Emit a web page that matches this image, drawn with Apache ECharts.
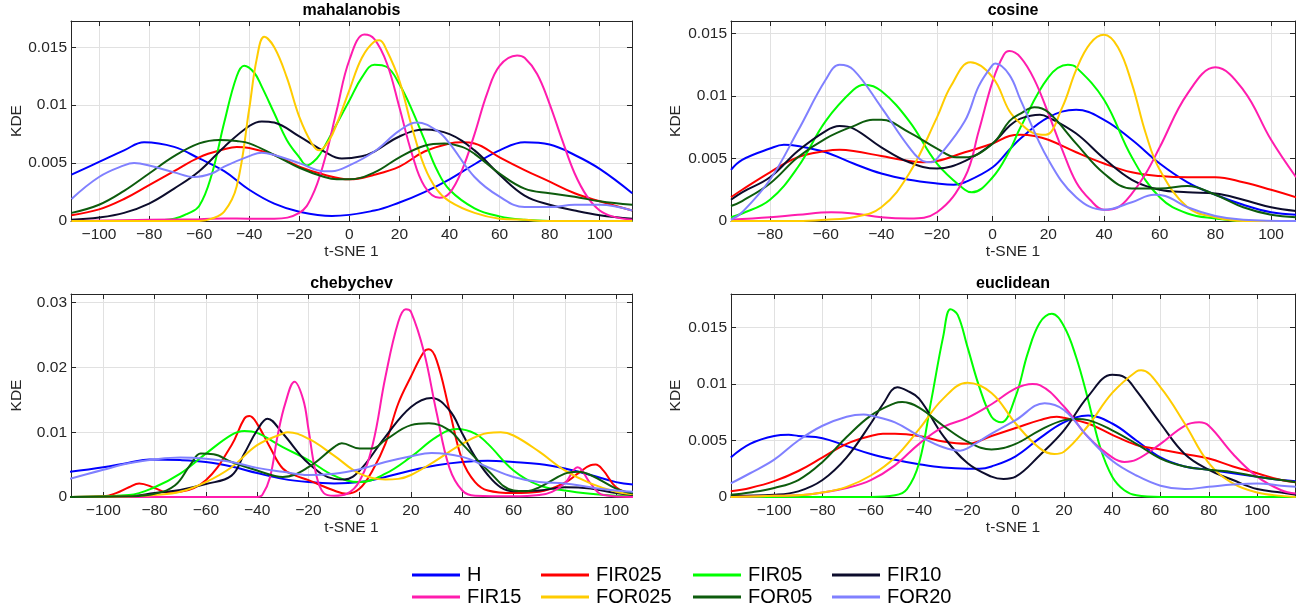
<!DOCTYPE html>
<html>
<head>
<meta charset="utf-8">
<script src="https://cdn.jsdelivr.net/npm/echarts@6/dist/echarts.min.js"></script>
<style>
html,body{margin:0;padding:0;background:#fff;}
#chart{width:1306px;height:612px;}
</style>
</head>
<body>
<div id="chart"></div>
<script>
// ---------------- DATA ----------------
const seriesNames = ['H','FIR025','FIR05','FIR10','FIR15','FOR025','FOR05','FOR20'];
const seriesColors = ['#0000ff','#ff0000','#00ff00','#0c0c2c','#ff1cae','#ffcc00','#0d5c0d','#8080ff'];
const panelTitles = ['mahalanobis','cosine','chebychev','euclidean'];
const xAxisName = 't-SNE 1';
const yAxisName = 'KDE';
const xTickStep = 20;
const yTickSteps = [0.005, 0.005, 0.01, 0.005];
const xRanges = [[-111.2, 112.9], [-94, 108.6], [-112.6, 106.2], [-117.9, 115.7]];
const yMaxes = [0.01727, 0.01601, 0.03135, 0.01795];

// mahalanobis
const mah_H = [[-111,.0040],[-100,.0051],[-90,.0061],[-82,.0068],[-70,.0064],[-60,.0054],[-50,.0043],[-40,.0027],[-30,.0015],[-20,.0008],[-7,.00043],[10,.0009],[20,.0016],[30,.0025],[40,.0036],[50,.0049],[60,.0061],[70,.0068],[80,.0066],[90,.0057],[100,.0045],[113,.0024]];
const mah_FIR025 = [[-111,.0005],[-100,.0010],[-90,.0019],[-80,.0031],[-70,.0043],[-60,.0055],[-50,.0062],[-45,.0064],[-40,.0063],[-30,.0057],[-20,.0047],[-10,.0040],[0,.0036],[10,.0040],[20,.0047],[30,.0060],[40,.0067],[45,.0068],[50,.0067],[60,.0055],[70,.0044],[80,.0034],[90,.0024],[100,.0017],[113,.0009]];
const mah_FIR05 = [[-111,0],[-80,.00005],[-70,.0002],[-65,.0006],[-60,.0013],[-55,.0040],[-50,.0085],[-45,.0125],[-42,.0134],[-38,.0128],[-35,.0116],[-30,.0093],[-25,.0070],[-20,.0055],[-17,.0048],[-13,.0054],[-10,.0064],[-5,.0084],[0,.0104],[5,.0124],[10,.0135],[15,.0133],[20,.0118],[25,.0096],[30,.0070],[35,.0044],[40,.0027],[50,.0011],[60,.0004],[70,.0001],[80,0],[113,0]];
const mah_FIR10 = [[-111,.0001],[-100,.0003],[-90,.0007],[-80,.0015],[-70,.0028],[-60,.0043],[-50,.0064],[-40,.0082],[-35,.0086],[-30,.0085],[-20,.0073],[-10,.0060],[-3,.0054],[5,.0056],[10,.0060],[20,.0073],[30,.0079],[40,.0075],[50,.0061],[60,.0040],[70,.0022],[80,.0014],[90,.0009],[100,.0005],[113,.0002]];
const mah_FIR15 = [[-111,0],[-80,.0001],[-60,.00015],[-50,.00022],[-40,.0002],[-30,.0002],[-20,.0007],[-15,.0021],[-10,.0052],[-5,.0096],[0,.0139],[6,.0161],[10,.0157],[15,.0136],[20,.0098],[25,.0058],[30,.0030],[36,.0020],[40,.0024],[45,.0044],[50,.0075],[55,.0110],[60,.0134],[67,.0143],[70,.0141],[75,.0127],[80,.0101],[85,.0070],[90,.0041],[95,.0021],[100,.0009],[105,.0004],[113,.0001]];
const mah_FOR025 = [[-111,0],[-60,0],[-55,.0002],[-50,.0008],[-45,.0030],[-40,.0097],[-37,.0140],[-34,.0159],[-30,.0150],[-25,.0124],[-20,.0090],[-15,.0067],[-12,.0061],[-8,.0070],[-5,.0084],[0,.0113],[5,.0141],[10,.0155],[12,.0156],[15,.0147],[20,.0121],[25,.0081],[30,.0047],[35,.0027],[40,.0017],[50,.0007],[60,.0002],[70,.0001],[80,0],[113,0]];
const mah_FOR05 = [[-111,.0007],[-100,.0014],[-90,.0026],[-80,.0041],[-70,.0056],[-60,.0067],[-52,.0070],[-45,.0069],[-40,.0067],[-30,.0057],[-20,.0046],[-10,.0038],[-5,.0036],[0,.0036],[10,.0042],[20,.0055],[30,.0065],[38,.0067],[45,.0064],[50,.0058],[60,.0041],[70,.0028],[80,.0024],[90,.0021],[100,.0017],[113,.0014]];
const mah_FOR20 = [[-111,.0019],[-100,.0038],[-90,.0048],[-86,.0050],[-80,.0048],[-70,.0042],[-62,.0038],[-55,.0041],[-50,.0047],[-40,.0056],[-35,.0059],[-30,.0057],[-20,.0050],[-10,.0043],[-7,.0043],[0,.0048],[10,.0060],[20,.0078],[27,.0085],[35,.0078],[40,.0067],[50,.0038],[60,.0021],[70,.0012],[80,.0012],[90,.0014],[100,.0014],[113,.0009]];

// cosine
const cos_H = [[-94,.0041],[-90,.0049],[-80,.0058],[-75,.0061],[-70,.0060],[-60,.0055],[-50,.0046],[-40,.0038],[-30,.0033],[-20,.0030],[-14,.0029],[-10,.0031],[0,.0043],[6,.0057],[10,.0066],[20,.0083],[30,.0089],[40,.0081],[50,.0065],[60,.0046],[70,.0031],[80,.0021],[90,.0013],[100,.0007],[109,.0005]];
const cos_FIR025 = [[-94,.0019],[-90,.0025],[-80,.0039],[-70,.0051],[-60,.0056],[-55,.0057],[-50,.0056],[-40,.0052],[-30,.0048],[-25,.0047],[-20,.0048],[-10,.0055],[0,.0062],[6,.0068],[10,.0069],[15,.0068],[20,.0065],[30,.0055],[40,.0046],[50,.0039],[60,.0036],[70,.0035],[80,.0035],[90,.0031],[100,.0025],[109,.0019]];
const cos_FIR05 = [[-94,.0003],[-90,.0006],[-80,.0017],[-70,.0043],[-60,.0080],[-50,.0105],[-46,.0109],[-40,.0104],[-30,.0080],[-20,.0046],[-10,.0025],[-7.5,.0023],[0,.0035],[6,.0056],[10,.0075],[20,.0115],[27,.0125],[30,.0123],[40,.0097],[50,.0051],[60,.0019],[70,.0006],[80,.0002],[90,0],[109,0]];
const cos_FIR10 = [[-94,.0017],[-90,.0023],[-80,.0035],[-70,.0056],[-60,.0072],[-55,.0076],[-50,.0074],[-40,.0059],[-30,.0047],[-20,.0042],[-10,.0048],[0,.0062],[6,.0076],[10,.0082],[17,.0085],[20,.0083],[30,.0070],[40,.0050],[50,.0033],[60,.0025],[70,.0023],[80,.0022],[90,.0017],[100,.0011],[109,.0008]];
const cos_FIR15 = [[-94,.0001],[-80,.0003],[-70,.0005],[-58,.0007],[-50,.0006],[-40,.0003],[-30,.0002],[-20,.0007],[-10,.0035],[-5,.0072],[0,.0112],[4,.0133],[6,.0136],[10,.0131],[15,.0113],[20,.0086],[25,.0057],[30,.0031],[35,.0017],[40,.0009],[45,.0011],[50,.0022],[55,.0038],[60,.0059],[70,.0102],[80,.0123],[90,.0105],[100,.0065],[109,.0035]];
const cos_FOR025 = [[-94,0],[-70,0],[-60,.0001],[-50,.0003],[-40,.0011],[-30,.0038],[-20,.0083],[-15,.0108],[-8,.0127],[0,.0115],[6,.0088],[10,.0078],[15,.0070],[19,.0069],[25,.0091],[30,.0121],[35,.0142],[40,.0149],[45,.0139],[50,.0110],[55,.0070],[60,.0041],[70,.0011],[80,.0003],[90,0],[109,0]];
const cos_FOR05 = [[-94,.0012],[-90,.0016],[-80,.0030],[-70,.0051],[-60,.0066],[-50,.0076],[-43,.0081],[-40,.0081],[-30,.0071],[-20,.0058],[-13,.0051],[-10,.0051],[0,.0062],[6,.0080],[10,.0086],[15,.0091],[20,.0087],[30,.0062],[40,.0038],[50,.0026],[60,.0026],[70,.0028],[80,.0021],[90,.0011],[100,.0005],[109,.0003]];
const cos_FOR20 = [[-94,.0001],[-90,.0007],[-80,.0033],[-70,.0072],[-60,.0113],[-55,.0125],[-50,.0121],[-40,.0091],[-30,.0059],[-25,.0048],[-22,.0047],[-20,.0050],[-10,.0080],[-5,.0108],[0,.0125],[1,.0126],[6,.0117],[10,.0097],[20,.0049],[30,.0019],[40,.0009],[50,.0015],[58,.0021],[62,.0020],[70,.0011],[80,.0004],[90,.0001],[109,0]];

// chebychev
const che_H = [[-113,.0039],[-100,.0046],[-90,.0053],[-82,.0058],[-70,.0057],[-60,.0054],[-50,.0047],[-40,.0037],[-30,.0028],[-20,.0023],[-10,.0021],[0,.0023],[10,.0031],[20,.0041],[30,.0049],[40,.0054],[50,.0056],[60,.0054],[70,.0051],[80,.0044],[90,.0034],[100,.0023],[107,.0019]];
const che_FIR025 = [[-113,0],[-100,.0001],[-95,.0006],[-90,.0015],[-86,.0021],[-80,.0014],[-75,.0007],[-70,.0008],[-60,.0026],[-50,.0080],[-45,.0121],[-43,.0125],[-40,.0113],[-35,.0077],[-30,.0044],[-25,.0033],[-20,.0026],[-10,.0010],[-5,.0005],[0,.0013],[5,.0041],[10,.0082],[15,.0144],[20,.0186],[25,.0224],[27,.0228],[30,.0211],[35,.0134],[40,.0057],[45,.0023],[50,.0010],[60,.0006],[70,.0008],[80,.0022],[85,.0036],[90,.0049],[92,.0050],[95,.0041],[100,.0015],[107,.0003]];
const che_FIR05 = [[-113,0],[-90,.0003],[-80,.0015],[-70,.0036],[-60,.0067],[-50,.0096],[-45,.0102],[-40,.0099],[-30,.0077],[-20,.0057],[-10,.0033],[0,.0023],[10,.0036],[20,.0062],[30,.0093],[38,.0105],[45,.0098],[50,.0082],[60,.0041],[70,.0018],[80,.0010],[90,.0005],[100,.0002],[107,.0001]];
const che_FIR10 = [[-113,0],[-90,.0001],[-80,.0006],[-70,.0011],[-60,.0020],[-50,.0033],[-45,.0067],[-40,.0103],[-36,.0121],[-30,.0098],[-20,.0052],[-10,.0028],[-6,.0027],[0,.0041],[10,.0093],[20,.0139],[28,.0153],[35,.0134],[40,.0098],[45,.0062],[50,.0034],[55,.0015],[60,.0009],[70,.0010],[80,.0015],[90,.0013],[100,.0006],[107,.0003]];
const che_FIR15 = [[-113,0],[-40,0],[-38,.0003],[-35,.0030],[-32,.0095],[-29,.0145],[-25.4,.0178],[-22,.0150],[-20,.0105],[-17,.0035],[-14,.0006],[-10,.0002],[-5,.0005],[0,.0025],[5,.0080],[10,.0185],[15,.0270],[18,.0290],[20,.0286],[25,.0225],[30,.0130],[35,.0045],[40,.0010],[45,.0002],[60,.0001],[70,.0003],[75,.0008],[80,.0021],[85,.0046],[90,.0021],[95,.0003],[107,0]];
const che_FOR025 = [[-113,0],[-90,.0001],[-80,.0003],[-70,.0008],[-60,.0023],[-50,.0046],[-40,.0080],[-30,.0098],[-28,.0100],[-20,.0090],[-10,.0064],[0,.0036],[10,.0027],[15,.0028],[20,.0034],[30,.0057],[40,.0082],[50,.0099],[55,.0100],[60,.0095],[70,.0070],[80,.0041],[90,.0021],[100,.0008],[107,.0004]];
const che_FOR05 = [[-113,0],[-90,.0001],[-80,.0005],[-72,.0018],[-66,.0050],[-62,.0067],[-57,.0066],[-50,.0054],[-40,.0041],[-30,.0031],[-20,.0046],[-10,.0077],[-7,.0083],[0,.0075],[5,.0075],[10,.0088],[20,.0111],[27,.0114],[35,.0103],[40,.0082],[50,.0041],[60,.0010],[65,.0009],[70,.0015],[80,.0036],[85,.0039],[90,.0034],[100,.0013],[107,.0005]];
const che_FOR20 = [[-113,.0028],[-100,.0042],[-90,.0052],[-80,.0058],[-70,.0061],[-60,.0059],[-50,.0054],[-40,.0045],[-30,.0039],[-20,.0034],[-10,.0036],[0,.0043],[10,.0054],[20,.0063],[28,.0068],[40,.0062],[50,.0046],[60,.0031],[70,.0023],[80,.0021],[90,.0015],[100,.0010],[107,.0008]];

// euclidean
const euc_H = [[-118,.0035],[-110,.0047],[-100,.0054],[-94,.0055],[-90,.0054],[-80,.0052],[-70,.0045],[-60,.0038],[-50,.0033],[-40,.0029],[-30,.0026],[-20,.0025],[-15,.0025],[-10,.0027],[0,.0036],[10,.0052],[20,.0066],[30,.0072],[40,.0065],[50,.0050],[60,.0035],[70,.0027],[80,.0024],[90,.0021],[100,.0018],[110,.0015],[116,.0014]];
const euc_FIR025 = [[-118,.0005],[-110,.0008],[-100,.0014],[-90,.0023],[-80,.0035],[-70,.0047],[-60,.0054],[-55,.0056],[-50,.0056],[-40,.0054],[-30,.0049],[-20,.0047],[-10,.0054],[0,.0061],[10,.0068],[17,.0071],[20,.0070],[30,.0065],[40,.0055],[50,.0046],[60,.0042],[70,.0038],[80,.0034],[90,.0027],[100,.0021],[110,.0015],[116,.0013]];
const euc_FIR05 = [[-118,0],[-60,0],[-50,.00015],[-45,.0007],[-40,.0030],[-35,.0085],[-30,.0142],[-27,.0166],[-24,.0161],[-20,.0133],[-15,.0097],[-10,.0071],[-6,.0066],[0,.0089],[5,.0127],[10,.0154],[15,.0162],[20,.0151],[25,.0124],[30,.0086],[35,.0044],[40,.0018],[45,.0006],[50,.00015],[60,0],[116,0]];
const euc_FIR10 = [[-118,.0001],[-100,.0002],[-90,.0005],[-80,.0015],[-70,.0035],[-60,.0065],[-55,.0082],[-49,.0097],[-45,.0094],[-40,.0087],[-30,.0054],[-20,.0030],[-10,.0018],[-5,.0016],[0,.0018],[10,.0037],[20,.0059],[30,.0089],[40,.0108],[45,.0106],[50,.0094],[60,.0065],[70,.0038],[80,.0024],[90,.0015],[100,.0007],[110,.0004],[116,.0002]];
const euc_FIR15 = [[-118,0],[-100,.0001],[-90,.00015],[-80,.0004],[-70,.0008],[-60,.0015],[-50,.0028],[-40,.0047],[-30,.0062],[-20,.0070],[-10,.0082],[0,.0096],[7,.0100],[10,.0099],[20,.0080],[30,.0053],[40,.0035],[45,.0031],[50,.0033],[60,.0047],[70,.0063],[76,.0066],[80,.0063],[90,.0038],[100,.0018],[110,.0006],[116,.0003]];
const euc_FOR025 = [[-118,0],[-100,.0001],[-90,.00015],[-80,.0004],[-70,.0009],[-60,.0019],[-50,.0035],[-40,.0060],[-30,.0087],[-20,.0101],[-10,.0092],[0,.0065],[10,.0043],[16,.0038],[20,.0040],[30,.0063],[40,.0092],[50,.0111],[52,.0112],[60,.0097],[70,.0065],[80,.0030],[90,.0012],[100,.0004],[110,.0001],[116,0]];
const euc_FOR05 = [[-118,.0002],[-110,.0004],[-100,.0008],[-90,.0015],[-80,.0031],[-70,.0053],[-60,.0072],[-50,.0083],[-47,.0084],[-40,.0079],[-30,.0063],[-20,.0049],[-10,.0042],[0,.0047],[10,.0059],[20,.0068],[25,.0069],[30,.0068],[40,.0059],[50,.0047],[60,.0034],[70,.0027],[80,.0024],[90,.0022],[100,.0018],[110,.0015],[116,.0013]];
const euc_FOR20 = [[-118,.0012],[-110,.0021],[-100,.0033],[-90,.0050],[-80,.0063],[-70,.0071],[-63,.0073],[-60,.0072],[-50,.0066],[-40,.0054],[-30,.0044],[-23,.0041],[-20,.0043],[-10,.0056],[0,.0068],[12,.0083],[20,.0077],[30,.0053],[40,.0032],[50,.0019],[60,.0010],[70,.0007],[80,.0009],[90,.0011],[100,.0012],[110,.0010],[116,.0009]];

const panelData = [
  [mah_H, mah_FIR025, mah_FIR05, mah_FIR10, mah_FIR15, mah_FOR025, mah_FOR05, mah_FOR20],
  [cos_H, cos_FIR025, cos_FIR05, cos_FIR10, cos_FIR15, cos_FOR025, cos_FOR05, cos_FOR20],
  [che_H, che_FIR025, che_FIR05, che_FIR10, che_FIR15, che_FOR025, che_FOR05, che_FOR20],
  [euc_H, euc_FIR025, euc_FIR05, euc_FIR10, euc_FIR15, euc_FOR025, euc_FOR05, euc_FOR20]
];

// ---------------- LAYOUT / STYLE ----------------
const FONT = "'Liberation Sans', Arial, Helvetica, sans-serif";
const AXC = '#262626';
const grids = [
  {left: 71, top: 21, width: 561, height: 200},
  {left: 731, top: 21, width: 564, height: 200},
  {left: 71, top: 294, width: 561, height: 203},
  {left: 731, top: 294, width: 564, height: 203}
];
const yNameGaps = [46, 47.5, 46, 47.5];

function onStep(v, step) {
  const r = v / step;
  return Math.abs(r - Math.round(r)) < 1e-6;
}
function fmtX(v) {
  if (!onStep(v, xTickStep)) return '';
  const n = Math.round(v);
  return n < 0 ? '\u2212' + Math.abs(n) : String(n);
}
function fmtY(step) {
  return function (v) {
    if (!onStep(v, step)) return '';
    if (Math.abs(v) < 1e-12) return '0';
    return String(parseFloat(v.toFixed(4)));
  };
}

const xAxes = [], yAxes = [], series = [], titles = [];
grids.forEach((g, i) => {
  const [xmin, xmax] = xRanges[i];
  const ystep = yTickSteps[i];
  const common = {
    type: 'value', gridIndex: i, min: xmin, max: xmax,
    minInterval: xTickStep, maxInterval: xTickStep, splitNumber: 11
  };
  xAxes.push(Object.assign({}, common, {
    position: 'bottom',
    name: xAxisName, nameLocation: 'middle', nameGap: 21,
    nameTextStyle: {fontSize: 15.5, color: AXC, fontFamily: FONT},
    axisLine: {show: true, onZero: false, lineStyle: {color: AXC, width: 1}},
    axisTick: {show: true, inside: true, length: 5, lineStyle: {color: AXC}},
    axisLabel: {fontSize: 15.5, color: AXC, fontFamily: FONT, margin: 6, formatter: fmtX,
                showMinLabel: false, showMaxLabel: false},
    splitLine: {show: true, lineStyle: {color: '#e1e1e1', width: 1}}
  }));
  xAxes.push(Object.assign({}, common, {
    position: 'top',
    axisLine: {show: true, onZero: false, lineStyle: {color: AXC, width: 1}},
    axisTick: {show: true, inside: true, length: 5, lineStyle: {color: AXC}},
    axisLabel: {show: false},
    splitLine: {show: false}
  }));
  const ycommon = {
    type: 'value', gridIndex: i, min: 0, max: yMaxes[i],
    minInterval: ystep, maxInterval: ystep, splitNumber: 4
  };
  yAxes.push(Object.assign({}, ycommon, {
    position: 'left',
    name: yAxisName, nameLocation: 'middle', nameGap: yNameGaps[i],
    nameTextStyle: {fontSize: 15.5, color: AXC, fontFamily: FONT},
    axisLine: {show: true, onZero: false, lineStyle: {color: AXC, width: 1}},
    axisTick: {show: true, inside: true, length: 5, lineStyle: {color: AXC}},
    axisLabel: {fontSize: 15.5, color: AXC, fontFamily: FONT, margin: 4, formatter: fmtY(ystep),
                showMaxLabel: false},
    splitLine: {show: true, lineStyle: {color: '#e1e1e1', width: 1}}
  }));
  yAxes.push(Object.assign({}, ycommon, {
    position: 'right',
    axisLine: {show: true, onZero: false, lineStyle: {color: AXC, width: 1}},
    axisTick: {show: true, inside: true, length: 5, lineStyle: {color: AXC}},
    axisLabel: {show: false},
    splitLine: {show: false}
  }));
  titles.push({
    text: panelTitles[i],
    left: g.left + g.width / 2,
    top: g.top - 18,
    textAlign: 'center',
    padding: 0,
    textStyle: {fontSize: 16, fontWeight: 'bold', color: '#000', fontFamily: FONT}
  });
  panelData[i].forEach((d, k) => {
    series.push({
      name: seriesNames[k],
      type: 'line',
      xAxisIndex: i * 2,
      yAxisIndex: i * 2,
      data: d,
      showSymbol: false,
      symbol: 'none',
      smooth: 0.4,
      clip: true,
      color: seriesColors[k],
      lineStyle: {width: 2, color: seriesColors[k]},
      emphasis: {disabled: true},
      z: 2 + k
    });
  });
});

const legendCols = [['H','FIR15'], ['FIR025','FOR025'], ['FIR05','FOR05'], ['FIR10','FOR20']];
const legendLefts = [412, 541, 693, 832];
const legends = legendCols.map((names, c) => ({
  data: names,
  orient: 'vertical',
  left: legendLefts[c],
  top: 564,
  padding: 0,
  itemGap: 0,
  itemWidth: 48,
  itemHeight: 3,
  icon: 'rect',
  selectedMode: false,
  textStyle: {fontSize: 20, color: '#000', fontFamily: FONT, lineHeight: 22, padding: [0, 0, 0, 2]}
}));

const chart = echarts.init(document.getElementById('chart'), null, {renderer: 'canvas'});
chart.setOption({
  animation: false,
  backgroundColor: '#ffffff',
  title: titles,
  grid: grids,
  xAxis: xAxes,
  yAxis: yAxes,
  legend: legends,
  series: series
});
</script>
</body>
</html>
